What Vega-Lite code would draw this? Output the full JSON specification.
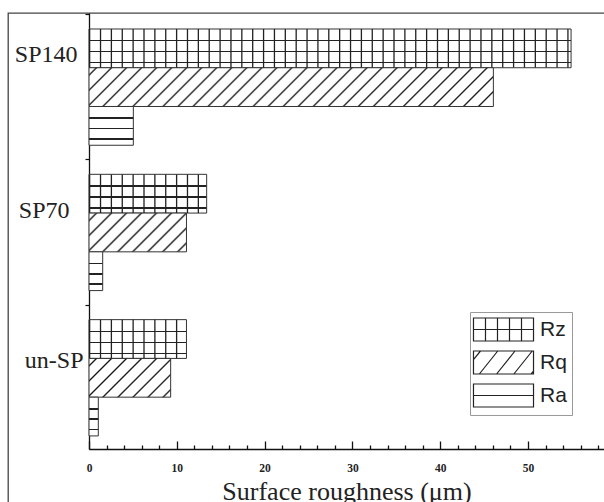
{
  "$schema": "https://vega.github.io/schema/vega-lite/v6.json",
  "width": 596,
  "height": 489,
  "autosize": {"type": "none"},
  "padding": {"left": 8, "top": 13, "right": 0, "bottom": 0},
  "background": "white",
  "config": {
    "view": {"stroke": "#444", "strokeWidth": 1.3, "strokeDash": [596, 1085, 489, 0]},
    "axis": {"grid": false}
  },
  "data": {
    "values": [
      {"group": "SP140", "series": "Rz", "value": 54.9},
      {"group": "SP140", "series": "Rq", "value": 46.05},
      {"group": "SP140", "series": "Ra", "value": 5.05},
      {"group": "SP70", "series": "Rz", "value": 13.4},
      {"group": "SP70", "series": "Rq", "value": 11.1},
      {"group": "SP70", "series": "Ra", "value": 1.56},
      {"group": "un-SP", "series": "Rz", "value": 11.1},
      {"group": "un-SP", "series": "Rq", "value": 9.3},
      {"group": "un-SP", "series": "Ra", "value": 1.06}
    ]
  },
  "encoding": {
    "y": {
      "field": "group", "type": "nominal",
      "scale": {"domain": ["SP140", "SP70", "un-SP"], "range": [0, 436], "paddingInner": 0.2, "paddingOuter": 0.1, "align": 0.55},
      "axis": {
        "orient": "left", "offset": -81, "title": null, "bandPosition": -0.125,
        "tickSize": 4, "tickColor": "#111", "tickWidth": 1.2,
        "domainColor": "#111", "domainWidth": 1.3,
        "labelFont": "Liberation Serif", "labelFontSize": 24, "labelColor": "#222",
        "labelAlign": "right", "labelBaseline": "middle",
        "labelPadding": {"condition": [{"test": "datum.value === 'SP140'", "value": 8}, {"test": "datum.value === 'SP70'", "value": 16}], "value": 2},
        "labelOffset": {"condition": [{"test": "datum.value === 'SP140'", "value": -32}, {"test": "datum.value === 'SP70'", "value": -21}], "value": -17}
      }
    },
    "yOffset": {
      "field": "series", "type": "nominal",
      "scale": {"domain": ["Rz", "Rq", "Ra"], "paddingInner": 0, "paddingOuter": 0}
    },
    "x": {
      "field": "value", "type": "quantitative",
      "scale": {"domain": [0, 58.65], "range": [81, 596], "nice": false, "zero": false},
      "axis": {
        "orient": "bottom", "offset": -53,
        "values": [0, 2, 4, 6, 8, 10, 12, 14, 16, 18, 20, 22, 24, 26, 28, 30, 32, 34, 36, 38, 40, 42, 44, 46, 48, 50, 52, 54, 56, 58],
        "labelExpr": "datum.value % 10 === 0 ? datum.label : ''",
        "tickSize": {"condition": {"test": "datum.value % 10 === 0", "value": -8}, "value": -4},
        "tickColor": "#111", "tickWidth": 1.3,
        "domainColor": "#111", "domainWidth": 1.3,
        "labelFont": "Liberation Serif", "labelFontWeight": "bold", "labelFontSize": 11.5, "labelColor": "#222",
        "labelPadding": 21, "labelFlush": false, "labelOverlap": false,
        "title": "Surface roughness (μm)",
        "titleFont": "Liberation Serif", "titleFontSize": 26, "titleFontWeight": "normal", "titleColor": "#222",
        "titlePadding": 1
      }
    }
  },
  "layer": [
    {
      "mark": {"type": "bar", "stroke": "#333", "strokeWidth": 1},
      "encoding": {
        "fill": {
          "condition": [
            {"test": "datum.series === 'Rz'", "value": {"gradient": "linear", "x1": 0, "y1": 0, "x2": 0, "y2": 1, "stops": [
              {"offset": 0, "color": "#fff"}, {"offset": 0.285, "color": "#fff"}, {"offset": 0.285, "color": "#222"}, {"offset": 0.318, "color": "#222"}, {"offset": 0.318, "color": "#fff"},
              {"offset": 0.57, "color": "#fff"}, {"offset": 0.57, "color": "#222"}, {"offset": 0.603, "color": "#222"}, {"offset": 0.603, "color": "#fff"},
              {"offset": 0.855, "color": "#fff"}, {"offset": 0.855, "color": "#222"}, {"offset": 0.888, "color": "#222"}, {"offset": 0.888, "color": "#fff"}, {"offset": 1, "color": "#fff"}]}},
            {"test": "datum.series === 'Ra'", "value": {"gradient": "linear", "x1": 0, "y1": 0, "x2": 0, "y2": 1, "stops": [
              {"offset": 0, "color": "#fff"}, {"offset": 0.28, "color": "#fff"}, {"offset": 0.28, "color": "#222"}, {"offset": 0.325, "color": "#222"}, {"offset": 0.325, "color": "#fff"},
              {"offset": 0.545, "color": "#fff"}, {"offset": 0.545, "color": "#222"}, {"offset": 0.59, "color": "#222"}, {"offset": 0.59, "color": "#fff"},
              {"offset": 0.81, "color": "#fff"}, {"offset": 0.81, "color": "#222"}, {"offset": 0.855, "color": "#222"}, {"offset": 0.855, "color": "#fff"}, {"offset": 1, "color": "#fff"}]}},
            {"test": "datum.group === 'SP140'", "value": {"gradient": "linear", "x1": 0, "y1": 0, "x2": 1.0859, "y2": 0.1041, "stops": [
              {"offset": 0, "color": "#fff"},
              {"offset": 0.0129, "color": "#fff"}, {"offset": 0.0170, "color": "#111"}, {"offset": 0.0211, "color": "#fff"},
              {"offset": 0.0468, "color": "#fff"}, {"offset": 0.0509, "color": "#111"}, {"offset": 0.0550, "color": "#fff"},
              {"offset": 0.0807, "color": "#fff"}, {"offset": 0.0848, "color": "#111"}, {"offset": 0.0889, "color": "#fff"},
              {"offset": 0.1146, "color": "#fff"}, {"offset": 0.1187, "color": "#111"}, {"offset": 0.1228, "color": "#fff"},
              {"offset": 0.1485, "color": "#fff"}, {"offset": 0.1526, "color": "#111"}, {"offset": 0.1567, "color": "#fff"},
              {"offset": 0.1824, "color": "#fff"}, {"offset": 0.1865, "color": "#111"}, {"offset": 0.1906, "color": "#fff"},
              {"offset": 0.2163, "color": "#fff"}, {"offset": 0.2204, "color": "#111"}, {"offset": 0.2245, "color": "#fff"},
              {"offset": 0.2502, "color": "#fff"}, {"offset": 0.2543, "color": "#111"}, {"offset": 0.2584, "color": "#fff"},
              {"offset": 0.2841, "color": "#fff"}, {"offset": 0.2882, "color": "#111"}, {"offset": 0.2923, "color": "#fff"},
              {"offset": 0.3180, "color": "#fff"}, {"offset": 0.3221, "color": "#111"}, {"offset": 0.3262, "color": "#fff"},
              {"offset": 0.3519, "color": "#fff"}, {"offset": 0.3560, "color": "#111"}, {"offset": 0.3601, "color": "#fff"},
              {"offset": 0.3858, "color": "#fff"}, {"offset": 0.3899, "color": "#111"}, {"offset": 0.3940, "color": "#fff"},
              {"offset": 0.4197, "color": "#fff"}, {"offset": 0.4238, "color": "#111"}, {"offset": 0.4279, "color": "#fff"},
              {"offset": 0.4536, "color": "#fff"}, {"offset": 0.4577, "color": "#111"}, {"offset": 0.4618, "color": "#fff"},
              {"offset": 0.4875, "color": "#fff"}, {"offset": 0.4916, "color": "#111"}, {"offset": 0.4957, "color": "#fff"},
              {"offset": 0.5214, "color": "#fff"}, {"offset": 0.5255, "color": "#111"}, {"offset": 0.5296, "color": "#fff"},
              {"offset": 0.5553, "color": "#fff"}, {"offset": 0.5594, "color": "#111"}, {"offset": 0.5635, "color": "#fff"},
              {"offset": 0.5892, "color": "#fff"}, {"offset": 0.5933, "color": "#111"}, {"offset": 0.5974, "color": "#fff"},
              {"offset": 0.6231, "color": "#fff"}, {"offset": 0.6272, "color": "#111"}, {"offset": 0.6313, "color": "#fff"},
              {"offset": 0.6570, "color": "#fff"}, {"offset": 0.6611, "color": "#111"}, {"offset": 0.6652, "color": "#fff"},
              {"offset": 0.6909, "color": "#fff"}, {"offset": 0.6950, "color": "#111"}, {"offset": 0.6991, "color": "#fff"},
              {"offset": 0.7248, "color": "#fff"}, {"offset": 0.7289, "color": "#111"}, {"offset": 0.7330, "color": "#fff"},
              {"offset": 0.7587, "color": "#fff"}, {"offset": 0.7628, "color": "#111"}, {"offset": 0.7669, "color": "#fff"},
              {"offset": 0.7926, "color": "#fff"}, {"offset": 0.7967, "color": "#111"}, {"offset": 0.8008, "color": "#fff"},
              {"offset": 0.8265, "color": "#fff"}, {"offset": 0.8306, "color": "#111"}, {"offset": 0.8347, "color": "#fff"},
              {"offset": 0.8604, "color": "#fff"}, {"offset": 0.8645, "color": "#111"}, {"offset": 0.8686, "color": "#fff"},
              {"offset": 0.8943, "color": "#fff"}, {"offset": 0.8984, "color": "#111"}, {"offset": 0.9025, "color": "#fff"},
              {"offset": 0.9282, "color": "#fff"}, {"offset": 0.9323, "color": "#111"}, {"offset": 0.9364, "color": "#fff"},
              {"offset": 0.9621, "color": "#fff"}, {"offset": 0.9662, "color": "#111"}, {"offset": 0.9703, "color": "#fff"},
              {"offset": 1, "color": "#fff"}]}},
            {"test": "datum.group === 'SP70'", "value": {"gradient": "linear", "x1": 0, "y1": 0, "x2": 1.2068, "y2": 0.4798, "stops": [
              {"offset": 0, "color": "#fff"},
              {"offset": 0.041, "color": "#fff"}, {"offset": 0.055, "color": "#111"}, {"offset": 0.069, "color": "#fff"},
              {"offset": 0.151, "color": "#fff"}, {"offset": 0.165, "color": "#111"}, {"offset": 0.179, "color": "#fff"},
              {"offset": 0.261, "color": "#fff"}, {"offset": 0.275, "color": "#111"}, {"offset": 0.289, "color": "#fff"},
              {"offset": 0.371, "color": "#fff"}, {"offset": 0.385, "color": "#111"}, {"offset": 0.399, "color": "#fff"},
              {"offset": 0.481, "color": "#fff"}, {"offset": 0.495, "color": "#111"}, {"offset": 0.509, "color": "#fff"},
              {"offset": 0.591, "color": "#fff"}, {"offset": 0.605, "color": "#111"}, {"offset": 0.619, "color": "#fff"},
              {"offset": 0.701, "color": "#fff"}, {"offset": 0.715, "color": "#111"}, {"offset": 0.729, "color": "#fff"},
              {"offset": 0.811, "color": "#fff"}, {"offset": 0.825, "color": "#111"}, {"offset": 0.839, "color": "#fff"},
              {"offset": 0.921, "color": "#fff"}, {"offset": 0.935, "color": "#111"}, {"offset": 0.949, "color": "#fff"},
              {"offset": 1, "color": "#fff"}]}}
          ],
          "value": {"gradient": "linear", "x1": 0, "y1": 0, "x2": 1.2035, "y2": 0.5710, "stops": [
            {"offset": 0, "color": "#fff"},
            {"offset": 0.0475, "color": "#fff"}, {"offset": 0.0625, "color": "#111"}, {"offset": 0.0775, "color": "#fff"},
            {"offset": 0.1725, "color": "#fff"}, {"offset": 0.1875, "color": "#111"}, {"offset": 0.2025, "color": "#fff"},
            {"offset": 0.2975, "color": "#fff"}, {"offset": 0.3125, "color": "#111"}, {"offset": 0.3275, "color": "#fff"},
            {"offset": 0.4225, "color": "#fff"}, {"offset": 0.4375, "color": "#111"}, {"offset": 0.4525, "color": "#fff"},
            {"offset": 0.5475, "color": "#fff"}, {"offset": 0.5625, "color": "#111"}, {"offset": 0.5775, "color": "#fff"},
            {"offset": 0.6725, "color": "#fff"}, {"offset": 0.6875, "color": "#111"}, {"offset": 0.7025, "color": "#fff"},
            {"offset": 0.7975, "color": "#fff"}, {"offset": 0.8125, "color": "#111"}, {"offset": 0.8275, "color": "#fff"},
            {"offset": 0.9225, "color": "#fff"}, {"offset": 0.9375, "color": "#111"}, {"offset": 0.9525, "color": "#fff"},
            {"offset": 1, "color": "#fff"}]}
        }
      }
    },
    {
      "transform": [{"filter": "datum.series === 'Rz'"}],
      "mark": {"type": "rule", "color": "#222", "strokeWidth": 38.5, "strokeCap": "butt", "strokeDash": [1.3, 9.57]},
      "encoding": {
        "x": {"datum": 0, "type": "quantitative"},
        "x2": {"field": "value"}
      }
    },
    {
      "mark": {"type": "point", "opacity": 0, "filled": false},
      "encoding": {
        "shape": {
          "field": "series", "type": "nominal",
          "scale": {
            "domain": ["Rz", "Rq", "Ra"],
            "range": [
              "M-2.61,-1H2.61V1H-2.61Z M-2.61,0H2.61 M-1.566,-1V1 M-0.522,-1V1 M0.522,-1V1 M1.566,-1V1",
              "M-2.61,-1H2.61V1H-2.61Z M-2.61,-0.24L-2.0,-1 M-2.1,1L-0.5,-1 M-0.6,1L1.0,-1 M0.9,1L2.5,-1 M2.4,1L2.61,0.74",
              "M-2.61,-1H2.61V1H-2.61Z M-2.61,0H2.61"
            ]
          },
          "legend": {
            "orient": "none", "legendX": 462, "legendY": 299,
            "title": null,
            "padding": 5, "strokeColor": "#999", "fillColor": "#fff",
            "symbolSize": 529, "symbolOffset": 16, "labelOffset": 24, "rowPadding": 4,
            "symbolStrokeColor": "#222", "symbolFillColor": "#fff", "symbolStrokeWidth": 1.2, "symbolOpacity": 1,
            "labelFont": "Liberation Sans", "labelFontSize": 21, "labelColor": "#222",
            "labelExpr": "datum.label + '   '",
            "encode": {
              "symbols": {"update": {"opacity": {"value": 1}, "fill": {"value": "#fff"}, "stroke": {"value": "#222"}, "strokeWidth": {"value": 1.2}}}
            }
          }
        }
      }
    }
  ]
}
